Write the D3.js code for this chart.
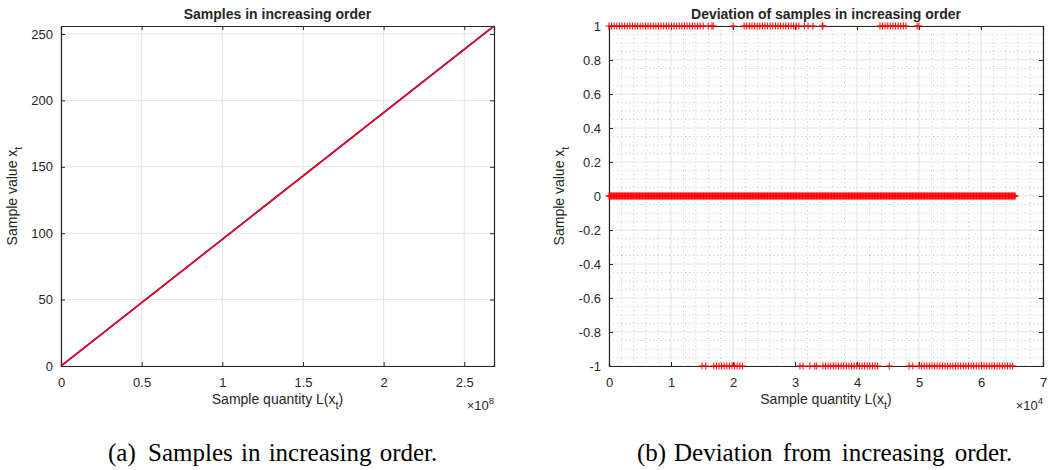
<!DOCTYPE html>
<html lang="en">
<head>
<meta charset="utf-8">
<title>Samples in increasing order</title>
<script src="https://cdn.jsdelivr.net/npm/d3@7"></script>
<style>
  body { margin: 0; background: #fff; }
  text { font-family: "Liberation Sans", Arial, Helvetica, sans-serif; fill: #262626; }
  .caption { font-family: "Liberation Serif", "Times New Roman", serif; fill: #000; }
</style>
</head>
<body>
<div id="chart"></div>
<script>
// ---- data ----
// (a) sorted samples: quantity L(x_t) vs sample value
var sortedX = [0, 268435456];
var sortedY = [0, 256];
var leftXTicks = [0, 0.5e8, 1e8, 1.5e8, 2e8, 2.5e8];
var leftYTicks = [0, 50, 100, 150, 200, 250];

// (b) deviation from increasing order, x in samples
var zeroRun = [0, 65536];
var upRuns = [[0, 14700], [21800, 30800], [43700, 48200]];
var upSingles = [15200, 16000, 16600, 16800, 20000, 31500, 32100, 32900, 34400, 34500, 49700, 50000];
var downRuns = [[16900, 21800], [34500, 43400], [50000, 65500]];
var downSingles = [15000, 15600, 30800, 31300, 32400, 33200, 33500, 45200, 48400, 49000];
var rightXTicks = [0, 1e4, 2e4, 3e4, 4e4, 5e4, 6e4, 7e4];
var rightYTicks = [-1, -0.8, -0.6, -0.4, -0.2, 0, 0.2, 0.4, 0.6, 0.8, 1];

var W = 1048, H = 470;
var svg = d3.select("#chart").append("svg").attr("width", W).attr("height", H);

var plotTop = 26, plotBottom = 366;

function frame(g, x, y, xTicks, yTicks, fmtX, fmtY) {
  var x0 = x.range()[0], x1 = x.range()[1];
  // major grid
  g.selectAll(".gx").data(xTicks).enter().append("line")
    .attr("x1", d => x(d)).attr("x2", d => x(d))
    .attr("y1", plotTop).attr("y2", plotBottom)
    .attr("stroke", "#e3e3e3").attr("stroke-width", 1);
  g.selectAll(".gy").data(yTicks).enter().append("line")
    .attr("x1", x0).attr("x2", x1)
    .attr("y1", d => y(d)).attr("y2", d => y(d))
    .attr("stroke", "#e3e3e3").attr("stroke-width", 1);

  var ax = d3.axisBottom(x).tickValues(xTicks).tickSize(-4).tickPadding(12).tickFormat(fmtX);
  var ay = d3.axisLeft(y).tickValues(yTicks).tickSize(-4).tickPadding(8).tickFormat(fmtY);
  var axTop = d3.axisTop(x).tickValues(xTicks).tickSize(-4).tickFormat("");
  var ayRight = d3.axisRight(y).tickValues(yTicks).tickSize(-4).tickFormat("");

  var gb = g.append("g").attr("transform", "translate(0," + plotBottom + ")").call(ax);
  var gl = g.append("g").attr("transform", "translate(" + x0 + ",0)").call(ay);
  var gt = g.append("g").attr("transform", "translate(0," + plotTop + ")").call(axTop);
  var gr = g.append("g").attr("transform", "translate(" + x1 + ",0)").call(ayRight);
  [gb, gl, gt, gr].forEach(function (a) {
    a.select(".domain").attr("stroke", "#262626").attr("stroke-width", 1.2);
    a.selectAll(".tick line").attr("stroke", "#262626");
    a.selectAll("text").style("font-size", "13px").attr("fill", "#262626");
  });
}

function subLabel(g, tx, ty, rot, main, sub, tail) {
  var t = g.append("text").attr("text-anchor", "middle").style("font-size", "14px")
    .attr("transform", "translate(" + tx + "," + ty + ")" + (rot ? " rotate(-90)" : ""));
  t.append("tspan").text(main);
  t.append("tspan").attr("dy", 5).style("font-size", "11px").text(sub);
  if (tail) t.append("tspan").attr("dy", -5).text(tail);
}

function expLabel(g, xr, yb, e) {
  var t = g.append("text").attr("text-anchor", "end").attr("x", xr).attr("y", yb).style("font-size", "13px");
  t.append("tspan").text("\u00d710");
  t.append("tspan").attr("dy", -6).style("font-size", "9.5px").text(e);
}

// ---- (a) ----
var ga = svg.append("g");
var xa = d3.scaleLinear().domain([0, 268435456]).range([61, 494]);
var ya = d3.scaleLinear().domain([0, 256]).range([plotBottom, plotTop]);
frame(ga, xa, ya, leftXTicks, leftYTicks, d => d3.format("")(d / 1e8), d => d);

var pts = sortedX.map((d, i) => [d, sortedY[i]]);
var line = d3.line().x(d => xa(d[0])).y(d => ya(d[1]));
ga.append("path").datum(pts).attr("d", line).attr("fill", "none").attr("stroke", "#2020d8").attr("stroke-width", 1.7);
ga.append("path").datum(pts).attr("d", line).attr("fill", "none").attr("stroke", "#ff0000").attr("stroke-width", 1.5);

ga.append("text").attr("x", 277.5).attr("y", 19).attr("text-anchor", "middle")
  .style("font-size", "14px").style("font-weight", "bold").attr("fill", "#111").text("Samples in increasing order");
subLabel(ga, 277.5, 404, false, "Sample quantity L(x", "t", ")");
subLabel(ga, 17, 196, true, "Sample value x", "t", null);
expLabel(ga, 494, 410, "8");

// ---- (b) ----
var gb = svg.append("g");
var xb = d3.scaleLinear().domain([0, 7e4]).range([609, 1043]);
var yb = d3.scaleLinear().domain([-1, 1]).range([plotBottom, plotTop]);

// minor dotted grid
var minorX = d3.range(0, 7e4 + 1, 2000).filter(d => d % 1e4 !== 0);
var minorY = d3.range(-100, 101, 5).filter(d => d % 20 !== 0).map(d => d / 100);
gb.selectAll(".mx").data(minorX).enter().append("line")
  .attr("x1", d => xb(d)).attr("x2", d => xb(d)).attr("y1", plotTop).attr("y2", plotBottom)
  .attr("stroke", "#c8c8c8").attr("stroke-dasharray", "1,3");
gb.selectAll(".my").data(minorY).enter().append("line")
  .attr("x1", 609).attr("x2", 1043).attr("y1", d => yb(d)).attr("y2", d => yb(d))
  .attr("stroke", "#c8c8c8").attr("stroke-dasharray", "1,3");

frame(gb, xb, yb, rightXTicks, rightYTicks, d => d / 1e4, d => d3.format("")(d).replace("\u2212", "-"));

function plusPath(xs, v) {
  var s = "";
  xs.forEach(function (d) {
    var px = xb(d), py = yb(v);
    s += "M" + (px - 3.5) + "," + py + "h7M" + px + "," + (py - 3.5) + "v7";
  });
  return s;
}
function runSamples(runs, step) {
  var out = [];
  runs.forEach(r => { out = out.concat(d3.range(r[0], r[1] + 1, step)); });
  return out;
}
var rows = [
  [runSamples([zeroRun], 120), 0],
  [runSamples(upRuns, 420).concat(upSingles), 1],
  [runSamples(downRuns, 420).concat(downSingles), -1]
];
rows.forEach(function (r) {
  gb.append("path").attr("d", plusPath(r[0], r[1])).attr("fill", "none")
    .attr("stroke", "#ff0000").attr("stroke-width", 1);
});

gb.append("text").attr("x", 826).attr("y", 19).attr("text-anchor", "middle")
  .style("font-size", "14px").style("font-weight", "bold").attr("fill", "#111").text("Deviation of samples in increasing order");
subLabel(gb, 826, 404, false, "Sample quantity L(x", "t", ")");
subLabel(gb, 564, 196, true, "Sample value x", "t", null);
expLabel(gb, 1043, 410, "4");

// ---- captions ----
var caps = [[108, 148, "(a)", "Samples in increasing order.", 2], [637, 674, "(b)", "Deviation from increasing order.", 4]];
caps.forEach(function (c) {
  svg.append("text").attr("class", "caption").attr("x", c[0]).attr("y", 461).style("font-size", "25px").text(c[2]);
  svg.append("text").attr("class", "caption").attr("x", c[1]).attr("y", 461).style("font-size", "25px")
    .style("word-spacing", c[4] + "px").text(c[3]);
});
</script>
</body>
</html>
